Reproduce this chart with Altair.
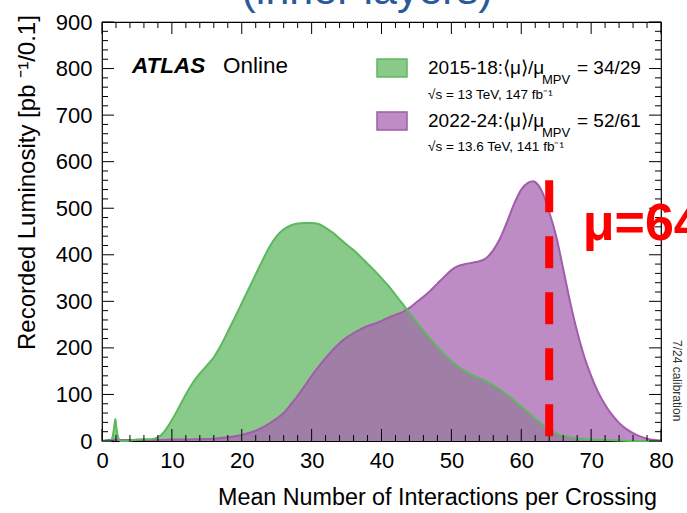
import altair as alt
import pandas as pd

FONT = "Liberation Sans"
W, H = 559, 419          # plot area in pixels
PAD = {"left": 102, "top": 22, "right": 26, "bottom": 72}

# 2015-18 data taking: recorded luminosity per 0.1 bin of <mu>
mu_2015 = [0, 1.2, 1.5, 1.75, 1.9, 2.05, 2.3, 2.7, 3.5, 4,
           5, 6, 7, 8, 9, 10, 11, 12, 13, 14,
           15, 16, 17, 18, 19, 20, 21, 22, 23, 24,
           25, 26, 27, 28, 29, 30, 31, 32, 33, 34,
           35, 36, 37, 38, 39, 40, 41, 42, 43, 44,
           45, 46, 47, 48, 49, 50, 51, 52, 53, 54,
           55, 56, 57, 58, 59, 60, 61, 62, 63, 64,
           65, 66, 67, 68, 69, 70, 72, 74, 76, 80]
lumi_2015 = [0, 0, 8, 30, 47, 30, 8, 0, 0, 1,
             3, 4, 4, 8, 22, 45, 72, 100, 125, 145,
             162, 180, 205, 235, 265, 296, 327, 358, 389, 418,
             440, 455, 463, 467, 468, 468, 466, 458, 448, 435,
             422, 410, 396, 381, 366, 350, 333, 314, 295, 275,
             256, 237, 219, 202, 186, 172, 160, 150, 142, 135,
             128, 120, 110, 99, 87, 74, 61, 48, 36, 25,
             17, 11, 8, 6, 4, 3, 2, 1, 0, 0]

# 2022-24 data taking
mu_2022 = [0, 1, 2, 3, 5, 8, 10, 12, 14, 16, 18, 20, 22,
           24, 25, 26, 27, 28, 29, 30, 31, 32, 33,
           34, 35, 36, 37, 38, 39, 40, 41, 42, 43,
           44, 45, 46, 47, 48, 49, 50, 51, 52, 53,
           54, 55, 56, 57, 58, 59, 60, 61, 61.7,
           62, 63, 64, 65, 66, 67, 68, 69, 70, 71,
           72, 73, 74, 75, 76, 77, 78, 79, 80]
lumi_2022 = [0, 2, 3, 2, 2, 2, 3, 3, 4, 5, 8, 13, 22,
             38, 48, 60, 78, 97, 118, 140, 160, 178, 195,
             210, 222, 232, 240, 247, 252, 258, 265, 271, 277,
             286, 298, 310, 323, 338, 353, 367, 376, 380, 383,
             386, 393, 410, 436, 472, 510, 540, 555, 558,
             556, 535, 492, 440, 370, 298, 235, 182, 140, 105,
             78, 56, 39, 26, 17, 10, 5, 2, 1]

# pile-up limit marker
mu_limit = 64
limit_top, limit_bottom = 560, 8.6
limit_label_mu, limit_label_lumi = 68.8, 432

# axis tick positions
x_major = list(range(0, 81, 10))
x_minor = [v for v in range(0, 81, 2) if v % 10]
y_major = list(range(0, 901, 100))
y_minor = [v for v in range(0, 901, 20) if v % 100]

GREEN_FILL, GREEN_LINE = "#89c989", "#5cb85c"
PURPLE_FILL, PURPLE_LINE = "#a866b0", "#a35bad"

xs = alt.Scale(domain=[0, 80], nice=False, zero=False)
ys = alt.Scale(domain=[0, 900], nice=False)

label_style = dict(labelFont=FONT, labelFontSize=22, labelColor="black",
                   labelFlush=False, labelOverlap=False, domain=False,
                   ticks=False, tickSize=0, grid=False, title=None)
x_axis = alt.Axis(values=x_major, labelPadding=9, **label_style)
y_axis = alt.Axis(values=y_major, labelPadding=10, **label_style)

run2 = pd.DataFrame({"mu": mu_2015, "lumi": lumi_2015})
run3 = pd.DataFrame({"mu": mu_2022, "lumi": lumi_2022})

green_area = alt.Chart(run2).mark_area(color=GREEN_FILL, interpolate="monotone").encode(
    x=alt.X("mu:Q", scale=xs, axis=x_axis),
    y=alt.Y("lumi:Q", scale=ys, axis=y_axis, stack=None))
purple_area = alt.Chart(run3).mark_area(color=PURPLE_FILL, opacity=0.75, interpolate="monotone").encode(
    x=alt.X("mu:Q", scale=xs, axis=None),
    y=alt.Y("lumi:Q", scale=ys, axis=None, stack=None))
purple_line = alt.Chart(run3).mark_line(color=PURPLE_LINE, strokeWidth=2, interpolate="monotone").encode(
    x=alt.X("mu:Q", scale=xs, axis=None),
    y=alt.Y("lumi:Q", scale=ys, axis=None))
green_line = alt.Chart(run2).mark_line(color=GREEN_LINE, strokeWidth=2, interpolate="monotone").encode(
    x=alt.X("mu:Q", scale=xs, axis=None),
    y=alt.Y("lumi:Q", scale=ys, axis=None))

limit_df = pd.DataFrame({"mu": [mu_limit], "top": [limit_top], "bottom": [limit_bottom]})
limit_rule = alt.Chart(limit_df).mark_rule(color="#ff0000", strokeWidth=8, strokeDash=[32, 24]).encode(
    x=alt.X("mu:Q", scale=xs, axis=None),
    y=alt.Y("top:Q", scale=ys, axis=None),
    y2="bottom:Q")
limit_text = alt.Chart(pd.DataFrame({"mu": [limit_label_mu], "lumi": [limit_label_lumi],
                                     "t": [f"μ={mu_limit}"]})).mark_text(
    font=FONT, fontSize=52, fontWeight="bold", color="#ff0000", align="left", baseline="alphabetic"
).encode(x=alt.X("mu:Q", scale=xs, axis=None), y=alt.Y("lumi:Q", scale=ys, axis=None), text="t:N")


def ticks_x(values, length, top):
    df = pd.DataFrame({"v": values})
    y0, y1 = (0, length) if top else (H, H - length)
    return alt.Chart(df).mark_rule(color="black", strokeWidth=1).encode(
        x=alt.X("v:Q", scale=xs, axis=None), y=alt.value(y0), y2=alt.value(y1))


def ticks_y(values, length, right):
    df = pd.DataFrame({"v": values})
    x0, x1 = (W, W - length) if right else (0, length)
    return alt.Chart(df).mark_rule(color="black", strokeWidth=1).encode(
        y=alt.Y("v:Q", scale=ys, axis=None), x=alt.value(x0), x2=alt.value(x1))


tick_layers = [ticks_x(x_major, 12, False), ticks_x(x_minor, 6, False),
               ticks_x(x_major, 12, True), ticks_x(x_minor, 6, True),
               ticks_y(y_major, 12, False), ticks_y(y_minor, 6, False),
               ticks_y(y_major, 12, True), ticks_y(y_minor, 6, True)]


def text(s, px, py, size, **kw):
    props = dict(font=FONT, fontSize=size, align="left", baseline="alphabetic", color="black")
    props.update(kw)
    return alt.Chart(pd.DataFrame({"t": [s]})).mark_text(**props).encode(
        x=alt.value(px), y=alt.value(py), text="t:N")


def box(px0, px1, py0, py1, fill, stroke):
    return alt.Chart(pd.DataFrame({"a": [0]})).mark_rect(
        color=fill, stroke=stroke, strokeWidth=1.5).encode(
        x=alt.value(px0), x2=alt.value(px1), y=alt.value(py0), y2=alt.value(py1))


annotations = [
    text("(inner layers)", 265, -18, 43, align="center", color="#2a5a9a"),
    text("ATLAS", 30, 51, 22.5, fontWeight="bold", fontStyle="italic"),
    text("Online", 121, 51, 22.5),
    box(275, 305, 37, 55, GREEN_FILL, GREEN_LINE),
    text("2015-18:⟨μ⟩/μ", 326, 52, 19),
    text("MPV", 440, 62, 13),
    text("= 34/29", 475, 52, 19),
    text("√s = 13 TeV, 147 fb⁻¹", 326, 77, 13.5),
    box(275, 305, 90, 108, "#bf8dc4", PURPLE_LINE),
    text("2022-24:⟨μ⟩/μ", 326, 105, 19),
    text("MPV", 440, 115, 13),
    text("= 52/61", 475, 105, 19),
    text("√s = 13.6 TeV, 141 fb⁻¹", 326, 129, 13.5),
    text("Recorded Luminosity [pb ⁻¹/0.1]", -67, 328, 24, angle=270),
    text("Mean Number of Interactions per Crossing", 555, 483, 23.3, align="right"),
    text("7/24 calibration", 571, 318, 12, angle=90, color="#333333"),
]

chart = alt.layer(
    green_area, purple_area, purple_line, green_line,
    *tick_layers, limit_rule, limit_text, *annotations
).resolve_axis(
    x="independent", y="independent"
).properties(
    width=W, height=H, padding=PAD,
    autosize=alt.AutoSizeParams(type="none"),
    background="white",
).configure_view(stroke="black", strokeWidth=1.2)

chart.save("out.html", embed_options={"renderer": "svg", "actions": False})
